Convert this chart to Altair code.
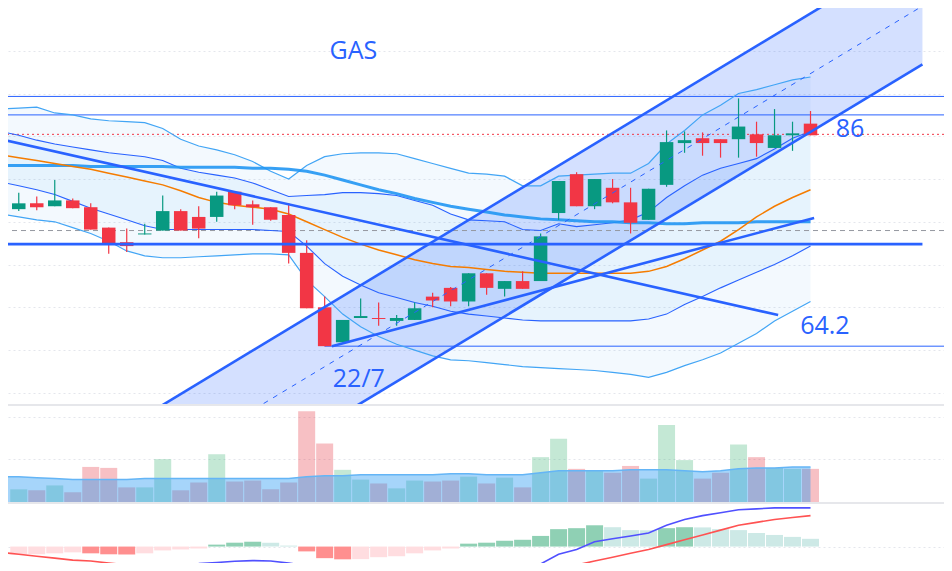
import altair as alt
import pandas as pd

# ---------------- data ----------------
days = list(range(45))
opens = [78.3, 78.9, 78.6, 79.2, 78.5, 76.4, 74.9, 75.7, 76.1, 78.1, 77.5, 77.5, 80.1, 78.8, 78.5,
         77.7, 73.8, 68.2, 64.6, 67.1, 67.1, 66.8, 66.9, 69.3, 70.2, 68.8, 71.7, 70.1, 70.9, 70.9,
         77.9, 81.9, 78.6, 80.5, 79.0, 77.2, 80.8, 85.1, 85.6, 85.5, 85.5, 86.0, 84.6, 85.9, 87.1]
highs = [80.0, 79.6, 81.3, 79.4, 78.9, 76.4, 76.3, 76.8, 79.7, 78.3, 78.6, 80.1, 80.1, 79.2, 78.5,
         78.9, 75.1, 69.3, 66.9, 69.1, 68.7, 67.4, 68.7, 69.7, 70.3, 71.7, 71.7, 70.9, 71.9, 75.8,
         81.2, 82.1, 81.4, 81.4, 80.5, 80.4, 86.4, 86.3, 86.2, 85.5, 89.7, 87.3, 88.6, 87.3, 88.4]
lows = [78.1, 78.2, 78.6, 78.4, 76.2, 73.7, 73.9, 75.7, 76.1, 76.1, 75.3, 77.0, 78.3, 76.7, 77.1,
        72.7, 68.1, 64.2, 64.6, 67.1, 66.3, 66.3, 66.9, 68.2, 68.3, 68.3, 69.5, 69.3, 70.1, 70.9,
        77.2, 78.6, 78.3, 78.9, 75.8, 77.2, 80.6, 84.1, 83.8, 83.6, 83.6, 83.7, 84.6, 84.3, 85.9]
closes = [78.9, 78.5, 79.2, 78.4, 76.2, 74.7, 74.5, 75.8, 78.1, 76.1, 76.3, 79.7, 78.7, 78.5, 77.2,
          73.8, 68.1, 64.2, 66.9, 67.3, 67.0, 67.1, 68.1, 68.9, 68.8, 71.7, 70.2, 70.9, 70.1, 75.5,
          81.2, 78.6, 81.4, 79.0, 76.9, 80.4, 85.2, 85.4, 85.1, 85.1, 86.8, 85.1, 85.9, 86.1, 85.9]

line_days = list(range(-1, 45))
bb_outer_upper = [88.6, 88.7, 88.8, 88.2, 88.0, 87.6, 87.4, 87.3, 87.2, 86.6, 85.5, 84.8, 84.4, 83.9, 83.2,
                  82.2, 81.4, 82.8, 83.7, 84.0, 84.1, 84.1, 84.0, 83.5, 83.0, 82.5, 82.0, 81.9, 81.7,
                  80.7, 80.7, 81.7, 81.8, 81.9, 82.0, 82.0, 83.0, 85.0, 86.4, 88.0, 89.0, 90.2, 90.6,
                  91.1, 91.6, 91.9]
bb_inner_upper = [86.3, 85.9, 85.4, 85.0, 84.7, 84.4, 84.1, 83.9, 83.7, 83.3, 82.5, 82.1, 81.8, 81.5, 81.0,
                  80.3, 79.6, 79.7, 79.8, 80.0, 80.0, 79.9, 79.7, 79.2, 78.7, 77.8, 77.2, 77.1, 77.0,
                  76.2, 76.1, 76.8, 76.5, 76.7, 76.9, 77.2, 78.0, 79.5, 80.7, 81.8, 82.5, 83.0, 83.5,
                  84.5, 85.6, 86.3]
bb_inner_lower = [81.1, 80.7, 80.3, 79.8, 79.1, 78.4, 77.8, 77.2, 76.6, 76.2, 76.2, 76.2, 76.2, 76.2, 76.2,
                  76.1, 76.0, 74.5, 72.7, 71.4, 70.5, 69.7, 69.2, 68.7, 68.3, 67.8, 67.5, 67.3, 67.1,
                  66.9, 66.8, 66.8, 66.8, 66.8, 66.8, 66.8, 67.0, 67.5, 68.5, 69.3, 70.2, 71.0, 71.8,
                  72.6, 73.5, 74.5]
bb_outer_lower = [77.8, 77.5, 77.2, 77.0, 76.4, 75.8, 75.0, 74.0, 73.5, 73.3, 73.3, 73.4, 73.5, 73.6, 73.7,
                  73.7, 73.6, 71.0, 69.3, 67.5, 66.2, 65.2, 64.4, 63.8, 63.2, 62.8, 62.7, 62.5, 62.3,
                  62.1, 62.0, 61.9, 61.8, 61.7, 61.5, 61.3, 61.0, 61.5, 62.2, 62.8, 63.5, 64.5, 65.5,
                  66.8, 67.8, 68.8]
ma_slow = [82.8, 82.8, 82.8, 82.8, 82.8, 82.7, 82.7, 82.7, 82.7, 82.7, 82.6, 82.6, 82.6, 82.6, 82.5,
           82.5, 82.4, 82.2, 81.8, 81.3, 80.8, 80.3, 79.9, 79.4, 79.0, 78.6, 78.3, 78.0, 77.7,
           77.5, 77.3, 77.2, 77.1, 77.0, 77.0, 76.9, 76.9, 76.8, 76.8, 76.9, 76.9, 76.9, 77.0,
           77.0, 77.0, 77.0]
ma_fast = [83.9, 83.6, 83.3, 83.0, 82.7, 82.4, 82.0, 81.6, 81.2, 80.8, 80.2, 79.5, 79.0, 78.7, 78.5,
           78.3, 77.8, 77.0, 76.2, 75.4, 74.7, 74.1, 73.6, 73.1, 72.7, 72.4, 72.3, 72.1, 71.9,
           71.8, 71.7, 71.7, 71.7, 71.7, 71.7, 71.7, 71.9, 72.4, 73.2, 74.1, 75.0, 76.2, 77.5,
           78.6, 79.5, 80.3]

volumes = [1.3, 1.2, 1.7, 1.0, 3.6, 3.5, 1.5, 1.5, 4.4, 1.2, 2.0, 4.9, 2.1, 2.2, 1.3,
           2.0, 9.3, 6.0, 3.3, 2.3, 1.9, 1.4, 2.2, 2.1, 2.2, 2.6, 1.9, 2.5, 1.5, 4.6,
           6.5, 3.4, 3.2, 3.0, 3.7, 2.4, 7.9, 4.3, 2.4, 3.0, 5.9, 4.6, 3.5, 3.4, 3.4]
volume_ma = [2.6, 2.6, 2.5, 2.4, 2.3, 2.3, 2.3, 2.3, 2.4, 2.4, 2.4, 2.4, 2.4, 2.4, 2.4,
             2.4, 2.4, 2.6, 2.7, 2.7, 2.8, 2.8, 2.8, 2.8, 2.8, 2.9, 2.9, 2.8, 2.8, 2.8,
             3.0, 3.2, 3.2, 3.2, 3.2, 3.3, 3.3, 3.3, 3.2, 3.1, 3.2, 3.4, 3.5, 3.5, 3.6, 3.6]

macd_hist = [-0.8, -0.8, -0.7, -0.6, -0.7, -0.8, -0.82, -0.7, -0.4, -0.3, -0.2, 0.2, 0.4, 0.5, 0.4,
             0.1, -0.5, -1.2, -1.32, -1.3, -1.1, -1.0, -0.7, -0.4, -0.2, 0.3, 0.4, 0.6, 0.7, 1.1,
             1.8, 1.9, 2.2, 2.0, 1.7, 1.68, 1.9, 2.0, 1.98, 1.8, 1.7, 1.4, 1.2, 1.0, 0.8]
macd_line = [-1.8, -1.9, -2.0, -2.1, -2.1, -2.1, -2.0, -1.9, -1.85, -1.8, -1.78, -1.75, -1.65, -1.52, -1.45,
             -1.5, -1.7, -2.0, -2.6, -3.2, -3.6, -3.9, -4.0, -3.9, -3.7, -3.4, -3.0, -2.7, -2.4,
             -2.1, -1.8, -0.8, -0.3, 0.5, 0.8, 1.1, 1.4, 2.2, 2.8, 3.2, 3.5, 3.8, 3.9, 4.0, 4.0, 4.0]
signal_line = [-0.6, -0.8, -1.0, -1.2, -1.4, -1.5, -1.7, -1.9, -2.0, -2.1, -2.2, -2.2, -2.2, -2.2, -2.2,
               -2.2, -2.2, -2.3, -2.5, -2.7, -2.9, -3.1, -3.2, -3.3, -3.3, -3.3, -3.3, -3.2, -3.0,
               -2.8, -2.6, -2.4, -1.9, -1.5, -1.1, -0.7, -0.3, 0.2, 0.7, 1.2, 1.7, 2.2, 2.5, 2.8, 3.0, 3.2]

# drawings (day index, price)
channel_days = [0, 50.22]
channel_upper = [49.2, 105.4]
channel_mid = [43.1, 99.2]
channel_lower = [37.1, 93.2]
down_trend_days = [-1, 42.2]
down_trend_prices = [85.5, 67.4]
up_trend_days = [17.4, 44.2]
up_trend_prices = [64.2, 77.4]
support_level = 74.7
support_days = [-1, 50.22]
thin_levels = [89.9, 88.0]
low_level = 64.2
low_level_days = [17, 53]
last_price = 86.0
prev_close = 76.1

label_texts = ["GAS", "86", "64.2", "22/7"]
label_days = [18.6, 46.2, 44.8, 18.9]
label_prices = [94.6, 86.5, 66.3, 60.8]

# ---------------- layout / styles ----------------
W = 936
H_MAIN, H_VOL, H_MACD = 396, 96, 59
X_DOMAIN = [-0.32, 51.14]
BLUE = "#2962ff"
LIGHT_BLUE = "#2196f3"
GRID = "#e4e6ec"
grid_days = list(range(2, 51, 4))

xscale = alt.Scale(domain=X_DOMAIN, nice=False, zero=False)
x_grid_axis = alt.Axis(values=grid_days, grid=True, labels=False, ticks=False, domain=False,
                       title=None, gridDash=[2, 3], gridColor=GRID)


def y_axis(values):
    return alt.Axis(values=values, grid=True, labels=False, ticks=False, domain=False,
                    title=None, gridDash=[2, 3], gridColor=GRID)


up_flags = [c >= o for o, c in zip(opens, closes)]
candles = pd.DataFrame({"day": days, "open": opens, "high": highs, "low": lows, "close": closes})
candles["col"] = ["#089981" if u else "#f23645" for u in up_flags]

bands = pd.DataFrame({"day": line_days, "ou": bb_outer_upper, "iu": bb_inner_upper,
                      "il": bb_inner_lower, "ol": bb_outer_lower,
                      "slow": ma_slow, "fast": ma_fast})

main_y = alt.Scale(domain=[58.25, 99], nice=False, zero=False)
main_grid = [94.6, 90.2, 85.8, 81.4, 77.0, 72.6, 68.2, 63.8, 59.4]

bx = alt.X("day:Q", scale=xscale, axis=None)
b = alt.Chart(bands)

outer_fill = b.mark_area(color=LIGHT_BLUE, opacity=0.055, clip=True).encode(
    x=alt.X("day:Q", scale=xscale, axis=x_grid_axis),
    y=alt.Y("ou:Q", scale=main_y, axis=y_axis(main_grid)),
    y2="ol:Q")
inner_fill = b.mark_area(color=LIGHT_BLUE, opacity=0.06, clip=True).encode(
    x=bx, y=alt.Y("iu:Q", scale=main_y), y2="il:Q")

chan = pd.DataFrame({"day": channel_days, "upper": channel_upper, "mid": channel_mid,
                     "lower": channel_lower})
chan_fill = alt.Chart(chan).mark_area(color=BLUE, opacity=0.2, clip=True).encode(
    x=bx, y=alt.Y("upper:Q", scale=main_y), y2="lower:Q")

thin_rules = alt.Chart(pd.DataFrame({"level": thin_levels})).mark_rule(
    color=BLUE, strokeWidth=1, clip=True).encode(y=alt.Y("level:Q", scale=main_y))
low_rule = alt.Chart(pd.DataFrame({"day": [low_level_days[0]], "d1": [low_level_days[1]],
                                   "level": [low_level]})).mark_rule(
    color=BLUE, strokeWidth=1, clip=True).encode(
    x=bx, x2="d1:Q", y=alt.Y("level:Q", scale=main_y))
last_rule = alt.Chart(pd.DataFrame({"level": [last_price]})).mark_rule(
    color="#f23645", strokeWidth=1, strokeDash=[2, 3], clip=True).encode(
    y=alt.Y("level:Q", scale=main_y))
prev_rule = alt.Chart(pd.DataFrame({"level": [prev_close]})).mark_rule(
    color="#9598a1", strokeWidth=1, strokeDash=[5, 4], clip=True).encode(
    y=alt.Y("level:Q", scale=main_y))


def band_line(field, color, width, opacity=1.0):
    return b.mark_line(color=color, strokeWidth=width, opacity=opacity, clip=True).encode(
        x=bx, y=alt.Y(f"{field}:Q", scale=main_y))


lines = [
    band_line("ou", "#42a5f5", 1.2),
    band_line("ol", "#42a5f5", 1.2),
    band_line("iu", BLUE, 1.1),
    band_line("il", BLUE, 1.1),
    band_line("slow", LIGHT_BLUE, 3, 0.9),
    band_line("fast", "#f57c00", 1.5),
]

ccol = alt.Color("col:N", scale=None)
c = alt.Chart(candles)
wicks = c.mark_rule(strokeWidth=1.2, clip=True).encode(
    x=bx, y=alt.Y("low:Q", scale=main_y), y2="high:Q", color=ccol)
bodies = c.mark_bar(size=13.5, clip=True).encode(
    x=bx, y=alt.Y("open:Q", scale=main_y), y2="close:Q", color=ccol)

draw_rows = []
for name, ds, ps in [("up", channel_days, channel_upper), ("low", channel_days, channel_lower),
                     ("down_trend", down_trend_days, down_trend_prices),
                     ("up_trend", up_trend_days, up_trend_prices),
                     ("support", support_days, [support_level, support_level])]:
    for d, p in zip(ds, ps):
        draw_rows.append({"line": name, "day": d, "price": p})
drawings = alt.Chart(pd.DataFrame(draw_rows)).mark_line(
    color=BLUE, strokeWidth=2.6, clip=True).encode(
    x=bx, y=alt.Y("price:Q", scale=main_y), detail="line:N")
mid_line = alt.Chart(chan).mark_line(color=BLUE, strokeWidth=1, strokeDash=[5, 6],
                                     clip=True).encode(x=bx, y=alt.Y("mid:Q", scale=main_y))

labels = alt.Chart(pd.DataFrame({"text": label_texts, "day": label_days,
                                 "price": label_prices})).mark_text(
    font="Open Sans", fontSize=25, color=BLUE, align="center", baseline="middle").encode(
    x=bx, y=alt.Y("price:Q", scale=main_y), text="text:N")

main = alt.layer(outer_fill, inner_fill, chan_fill, thin_rules, low_rule, last_rule, prev_rule,
                 *lines, wicks, bodies, mid_line, drawings, labels).properties(
    width=W, height=H_MAIN)

# ---------------- volume panel ----------------
vol = pd.DataFrame({"day": days, "vol": volumes, "zero": 0,
                    "col": ["#3ab273" if u else "#e42d3a" for u in up_flags]})
vma = pd.DataFrame({"day": line_days, "vma": volume_ma, "zero": 0})
vol_y = alt.Scale(domain=[0, 9.85], nice=False, zero=False)
vol_bars = alt.Chart(vol).mark_bar(size=17, opacity=0.3, clip=True).encode(
    x=alt.X("day:Q", scale=xscale, axis=x_grid_axis),
    y=alt.Y("vol:Q", scale=vol_y, axis=y_axis([8.7, 4.4])), y2="zero:Q",
    color=alt.Color("col:N", scale=None))
vma_area = alt.Chart(vma).mark_area(color=LIGHT_BLUE, opacity=0.4, clip=True).encode(
    x=bx, y=alt.Y("vma:Q", scale=vol_y), y2="zero:Q")
vma_line = alt.Chart(vma).mark_line(color="#64b5f6", strokeWidth=1.5, clip=True).encode(
    x=bx, y=alt.Y("vma:Q", scale=vol_y))
volume = alt.layer(vol_bars, vma_area, vma_line).properties(width=W, height=H_VOL)

# ---------------- MACD panel ----------------
HIST_COLORS = {"pos_up": "#8fd0b4", "pos_down": "#cde9e6", "neg_down": "#ff8f8f", "neg_up": "#ffdde0"}
hist_cols = []
prev = None
for h in macd_hist:
    if h >= 0:
        kind = "pos_up" if (prev is None or h > prev) else "pos_down"
    else:
        kind = "neg_down" if (prev is not None and h < prev) else "neg_up"
    hist_cols.append(HIST_COLORS[kind])
    prev = h
hist = pd.DataFrame({"day": days, "h": macd_hist, "zero": 0, "col": hist_cols})
macd_lines = pd.DataFrame({"day": line_days, "macd": macd_line, "signal": signal_line})
m_y = alt.Scale(domain=[-1.7, 4.4], nice=False, zero=False)
hist_bars = alt.Chart(hist).mark_bar(size=17, clip=True).encode(
    x=alt.X("day:Q", scale=xscale, axis=x_grid_axis),
    y=alt.Y("h:Q", scale=m_y, axis=y_axis([0])), y2="zero:Q",
    color=alt.Color("col:N", scale=None))
macd_l = alt.Chart(macd_lines).mark_line(color="#5050ff", strokeWidth=1.6, clip=True).encode(
    x=bx, y=alt.Y("macd:Q", scale=m_y))
signal_l = alt.Chart(macd_lines).mark_line(color="#ff5252", strokeWidth=1.6, clip=True).encode(
    x=bx, y=alt.Y("signal:Q", scale=m_y))
macd = alt.layer(hist_bars, macd_l, signal_l).properties(width=W, height=H_MACD)

chart = alt.vconcat(main, volume, macd, spacing=2).properties(
    padding=0, background="#e6e7eb"
).configure_view(stroke=None, fill="white").configure_axis(minExtent=0, labels=False)

chart.save("out.html", embed_options={"renderer": "svg", "actions": False})
